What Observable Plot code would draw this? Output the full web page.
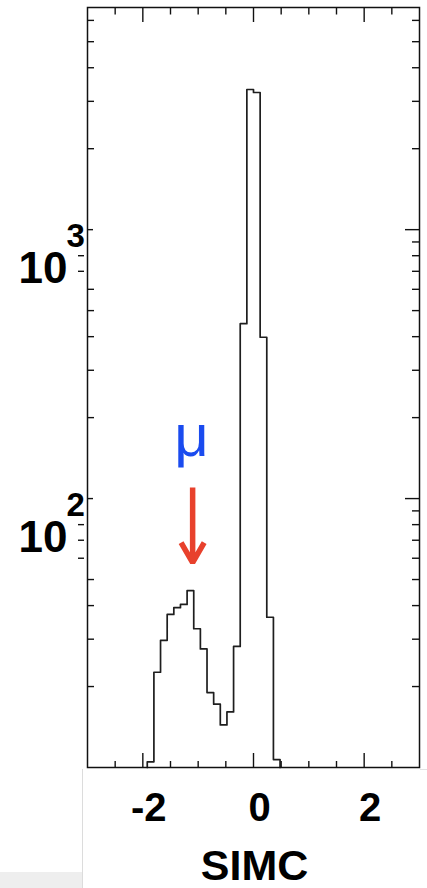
<!DOCTYPE html>
<html>
<head>
<meta charset="utf-8">
<script src="https://cdn.jsdelivr.net/npm/d3@7"></script>
<script src="https://cdn.jsdelivr.net/npm/@observablehq/plot@0.6"></script>
<style>
html, body { margin: 0; padding: 0; background: #fff; overflow: hidden; width: 427px; height: 888px; }
#chart { position: relative; width: 427px; height: 888px; }
#chart svg { display: block; }
.deco { position: absolute; pointer-events: none; }
</style>
</head>
<body>
<div id="chart"></div>
<script>
// ---- data ----
const binEdges = [-1.92, -1.80, -1.68, -1.56, -1.44, -1.32, -1.20, -1.08, -0.96, -0.84, -0.72,
                  -0.60, -0.48, -0.36, -0.24, -0.12, 0.00, 0.12, 0.24, 0.36, 0.48];
const counts = [10.5, 22.6, 29.7, 37.1, 39.3, 40.4, 45.5, 32.8, 27.6, 19.0,
                17.2, 14.4, 16.1, 28.2, 447, 3320, 3236, 398, 36.2, 10.7];
const yFloor = 10;
const yTop = 6700;

const xMajorTicks = [-2, 0, 2];
const xMinorTicks = [-2.5, -1.5, -1, -0.5, 0.5, 1, 1.5, 2.5];
const xTickLabels = ["-2", "0", "2"];
const yMajorTicks = [100, 1000];
const yMinorTicks = [20, 30, 40, 50, 60, 70, 80, 90, 200, 300, 400, 500, 600, 700, 800, 900, 2000, 3000, 4000, 5000, 6000];
const yLeftInner = [20, 30, 40, 50, 600, 200, 300, 400, 500, 2000, 3000, 4000, 5000, 6000];
const yLeftOuter = [60, 70, 80, 700, 800];
const yLabelBase = ["10", "10"];
const yLabelExp = ["2", "3"];
const xTitle = "SIMC";

const muLabel = [{x: -1.12, y: 144.6, text: "μ"}];
const muArrow = [{x: -1.10, y1: 110, y2: 57.8}];

// ---- layout ----
const W = 427, H = 888, mL = 87, mR = 8, mT = 7, mB = 121;
const fw = W - mL - mR, fh = H - mT - mB;
const FONT = "'Liberation Sans', Arial, Helvetica, sans-serif";

const outline = [{x: binEdges[0], y: yFloor}]
  .concat(counts.map((c, i) => ({x: binEdges[i], y: c})))
  .concat([{x: binEdges[binEdges.length - 1], y: yFloor}]);

const yLabels = yMajorTicks.map((v, i) => ({v, base: yLabelBase[i], exp: yLabelExp[i]}));
const xLabels = xMajorTicks.map((v, i) => ({v, t: xTickLabels[i]}));

const tickStyle = {stroke: "#111", strokeWidth: 1.4};

const svg = Plot.plot({
  width: W, height: H,
  marginLeft: mL, marginRight: mR, marginTop: mT, marginBottom: mB,
  x: {domain: [-3, 3], axis: null},
  y: {type: "log", domain: [yFloor, yTop], axis: null},
  style: {background: "white", fontFamily: FONT, overflow: "visible"},
  marks: [
    Plot.line(outline, {x: "x", y: "y", curve: "step-after", stroke: "#1e1e1e", strokeWidth: 1.7}),
    // bottom ticks
    Plot.tickX(xMajorTicks, {x: d => d, insetTop: fh - 14, ...tickStyle}),
    Plot.tickX(xMinorTicks, {x: d => d, insetTop: fh - 6, ...tickStyle}),
    // top ticks
    Plot.tickX(xMajorTicks, {x: d => d, insetBottom: fh - 15, ...tickStyle}),
    Plot.tickX(xMinorTicks, {x: d => d, insetBottom: fh - 7.5, ...tickStyle}),
    // right ticks
    Plot.tickY(yMajorTicks, {y: d => d, insetLeft: fw - 14, ...tickStyle}),
    Plot.tickY(yMinorTicks, {y: d => d, insetLeft: fw - 7, ...tickStyle}),
    // left ticks
    Plot.tickY(yMajorTicks, {y: d => d, insetRight: fw - 6, ...tickStyle}),
    Plot.tickY(yLeftInner, {y: d => d, insetRight: fw - 7, ...tickStyle}),
    Plot.tickY(yLeftOuter, {y: d => d, insetRight: fw - 6, dx: -9, ...tickStyle}),
    Plot.frame({stroke: "#111", strokeWidth: 1.5}),
    // y tick labels 10^n
    Plot.text(yLabels, {y: "v", text: "base", frameAnchor: "left", textAnchor: "end", lineAnchor: "bottom",
      dx: -20, dy: 53, fontSize: 44, fontWeight: "bold", fill: "#000"}),
    Plot.text(yLabels, {y: "v", text: "exp", frameAnchor: "left", textAnchor: "start", lineAnchor: "bottom",
      dx: -21, dy: 17.5, fontSize: 33, fontWeight: "bold", fill: "#000"}),
    // x tick labels
    Plot.text(xLabels, {x: "v", text: "t", frameAnchor: "bottom", textAnchor: "middle", lineAnchor: "bottom",
      dx: 6, dy: 53, fontSize: 40, fontWeight: "bold", fill: "#000"}),
    // x title
    Plot.text([xTitle], {text: d => d, frameAnchor: "bottom", textAnchor: "middle", lineAnchor: "bottom",
      dx: 1, dy: 112, fontSize: 43, fontWeight: "bold", fill: "#000"}),
    // annotation
    Plot.arrow(muArrow, {x1: "x", x2: "x", y1: "y1", y2: "y2", stroke: "#e8412c", strokeWidth: 5.5,
      headLength: 6.3, headAngle: 60, strokeLinejoin: "miter", strokeLinecap: "butt"}),
    Plot.text(muLabel, {x: "x", y: "y", text: "text", textAnchor: "middle", lineAnchor: "bottom",
      fontSize: 60, fill: "#1a4bef"})
  ]
});

const chart = document.getElementById("chart");
chart.appendChild(svg);

// faint screenshot border artifacts seen in the reference
function deco(l, t, w, h, c) {
  const d = document.createElement("div");
  d.className = "deco";
  d.style.left = l + "px"; d.style.top = t + "px";
  d.style.width = w + "px"; d.style.height = h + "px";
  d.style.background = c;
  chart.appendChild(d);
}
deco(82, 769, 1, 119, "#dcdcdc");
deco(420, 769, 7, 1, "#e2e2e2");
deco(0, 872, 82, 16, "#eeeeee");
</script>
</body>
</html>
